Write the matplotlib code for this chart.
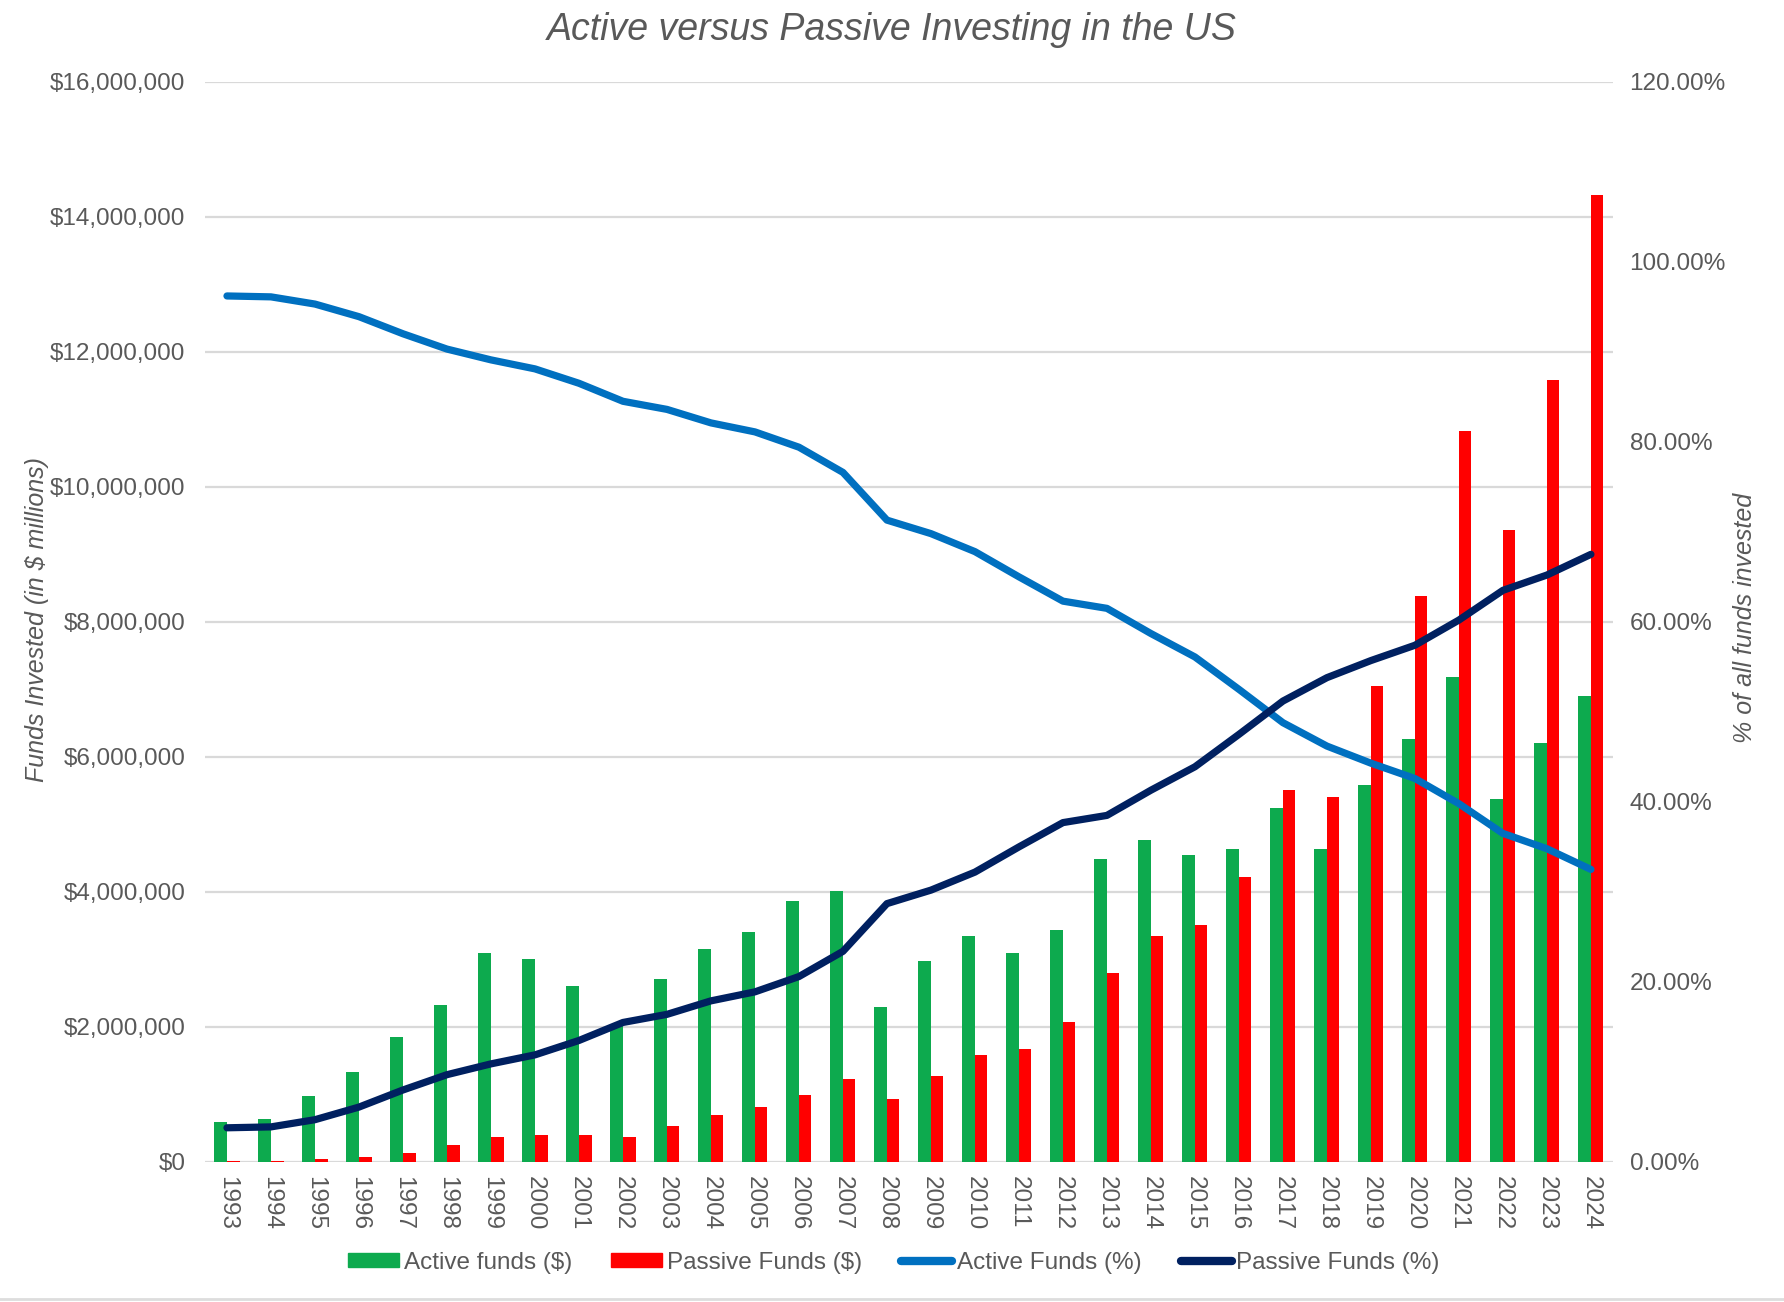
import numpy as np
from matplotlib import pyplot as plt
from matplotlib.ticker import FuncFormatter, MultipleLocator
from matplotlib.lines import Line2D

plt.rcParams['font.family'] = ['Liberation Sans', 'DejaVu Sans']

# datos
years = [str(y) for y in range(1993, 2025)]

active_usd = [590000, 640000, 980000, 1330000, 1850000, 2330000, 3090000, 3000000,
              2610000, 2050000, 2710000, 3150000, 3410000, 3860000, 4010000, 2290000,
              2970000, 3340000, 3100000, 3440000, 4490000, 4770000, 4540000, 4640000,
              5240000, 4640000, 5580000, 6270000, 7180000, 5380000, 6210000, 6900000]

passive_usd = [20000, 20000, 50000, 70000, 140000, 250000, 370000, 400000,
               400000, 370000, 540000, 690000, 810000, 990000, 1230000, 930000,
               1280000, 1590000, 1670000, 2070000, 2800000, 3340000, 3510000, 4220000,
               5510000, 5400000, 7050000, 8380000, 10830000, 9360000, 11580000, 14320000]

active_pct = [96.2, 96.1, 95.3, 93.9, 92.0, 90.3, 89.1, 88.1, 86.5, 84.5, 83.6,
              82.1, 81.1, 79.4, 76.6, 71.3, 69.8, 67.8, 65.0, 62.3, 61.5, 58.7,
              56.1, 52.5, 48.8, 46.2, 44.3, 42.6, 39.8, 36.5, 34.8, 32.5]

passive_pct = [3.8, 3.9, 4.7, 6.1, 8.0, 9.7, 10.9, 11.9, 13.5, 15.5, 16.4,
               17.9, 18.9, 20.6, 23.4, 28.7, 30.2, 32.2, 35.0, 37.7, 38.5, 41.3,
               43.9, 47.5, 51.2, 53.8, 55.7, 57.4, 60.2, 63.5, 65.2, 67.5]

c_green = '#0DAA4E'
c_red = '#FF0000'
c_blue = '#0070C0'
c_navy = '#002060'
c_text = '#595959'
c_grid = '#D9D9D9'

fig = plt.figure(figsize=(17.84, 13.02), dpi=100)
ax = fig.add_axes([0.1149, 1 - 1162/1302, 0.7892, (1162 - 81.7)/1302])
ax2 = ax.twinx()

x = np.arange(len(years))
w = 0.285
ax.bar(x - w/2, active_usd, w, color=c_green, zorder=2)
ax.bar(x + w/2, passive_usd, w, color=c_red, zorder=2)

ax2.plot(x, active_pct, color=c_blue, lw=5.2, solid_capstyle='round', solid_joinstyle='round')
ax2.plot(x, passive_pct, color=c_navy, lw=5.2, solid_capstyle='round', solid_joinstyle='round')

ax.set_xlim(-0.5, len(years) - 0.5)
ax.set_ylim(0, 16000000)
ax2.set_ylim(0, 120)

ax.yaxis.set_major_locator(MultipleLocator(2000000))
ax.yaxis.set_major_formatter(FuncFormatter(lambda v, p: '${:,.0f}'.format(v)))
ax2.yaxis.set_major_locator(MultipleLocator(20))
ax2.yaxis.set_major_formatter(FuncFormatter(lambda v, p: '{:.2f}%'.format(v)))

ax.set_xticks(x)
ax.set_xticklabels(years, rotation=-90, fontsize=17.5, color=c_text)

ax.grid(axis='y', color=c_grid, lw=1.6, zorder=0)
ax.set_axisbelow(True)
for a in (ax, ax2):
    for s in a.spines.values():
        s.set_visible(False)
    a.tick_params(length=0, labelsize=17.5, labelcolor=c_text)
ax.tick_params(axis='y', pad=14)
ax2.tick_params(axis='y', pad=12)
ax.tick_params(axis='x', pad=10)

fig.text(0.5, 1 - 30/1302, 'Active versus Passive Investing in the US', ha='center', va='center',
         fontsize=27, style='italic', color=c_text)
fig.text(37/1784, 1 - 620/1302, 'Funds Invested (in $ millions)', rotation=90, ha='center',
         va='center', fontsize=18, style='italic', color=c_text)
fig.text(1745/1784, 1 - 618/1302, '% of all funds invested', rotation=90, ha='center',
         va='center', fontsize=18, style='italic', color=c_text)

# leyenda
handles = [plt.Rectangle((0, 0), 1, 1, color=c_green),
           plt.Rectangle((0, 0), 1, 1, color=c_red),
           Line2D([0], [0], color=c_blue, lw=6, solid_capstyle='round'),
           Line2D([0], [0], color=c_navy, lw=6, solid_capstyle='round')]
labels = ['Active funds ($)', 'Passive Funds ($)', 'Active Funds (%)', 'Passive Funds (%)']
leg = fig.legend(handles, labels, loc='center', bbox_to_anchor=(894/1784, 1 - 1263/1302),
                 ncol=4, frameon=False, fontsize=17.5, handlelength=2.1, handleheight=0.5,
                 handletextpad=0.2, columnspacing=1.6)
for t in leg.get_texts():
    t.set_color(c_text)

fig.add_artist(Line2D([0, 1], [1 - 1299/1302, 1 - 1299/1302], color='#DDDDDD', lw=2,
                      transform=fig.transFigure))

fig.savefig('out.png', dpi=100, facecolor='white')
